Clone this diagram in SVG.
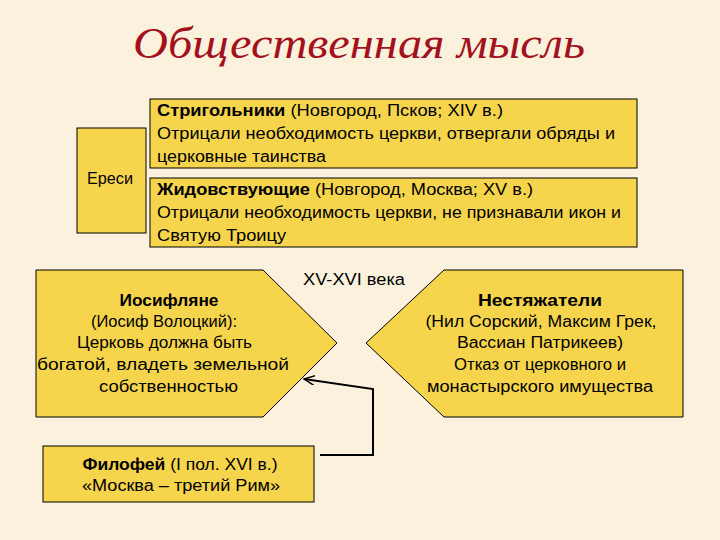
<svg xmlns="http://www.w3.org/2000/svg" width="720" height="540" viewBox="0 0 720 540">
<style>
.box{fill:#f6d54c;stroke:#000;stroke-width:1}
.t{font-family:"Liberation Sans",Arial,sans-serif;font-size:16px;fill:#000}
.c{text-anchor:middle}
.b{font-weight:bold}
.conn{fill:none;stroke:#000;stroke-width:2}
</style>
<defs>
<marker id="arr" viewBox="0 0 12 10" refX="11" refY="5" markerWidth="12" markerHeight="10" markerUnits="userSpaceOnUse" orient="auto">
<path d="M0,0 L11,5 L0,10" fill="none" stroke="#000" stroke-width="1.5"/>
</marker>
</defs>
<rect width="720" height="540" fill="#fbf1dc"/>
<text x="359" y="58" text-anchor="middle" font-family="'Liberation Serif','Times New Roman',serif" font-style="italic" font-size="45" fill="#a3121c" textLength="452" lengthAdjust="spacingAndGlyphs">Общественная мысль</text>

<g id="heresy">
<rect class="box" x="77" y="128" width="69" height="105"/>
<text class="t c" x="110" y="184" textLength="46" lengthAdjust="spacingAndGlyphs">Ереси</text>
</g>
<g id="strigolniki">
<rect class="box" x="150" y="99" width="487" height="69"/>
<text class="t" x="157" y="116" textLength="346" lengthAdjust="spacingAndGlyphs"><tspan class="b">Стригольники</tspan> (Новгород, Псков; XIV в.)</text>
<text class="t" x="157" y="139" textLength="458" lengthAdjust="spacingAndGlyphs">Отрицали необходимость церкви, отвергали обряды и</text>
<text class="t" x="157" y="162" textLength="169" lengthAdjust="spacingAndGlyphs">церковные таинства</text>
</g>
<g id="zhidovstvuyushchie">
<rect class="box" x="150" y="178" width="487" height="69"/>
<text class="t" x="157" y="195" textLength="376" lengthAdjust="spacingAndGlyphs"><tspan class="b">Жидовствующие</tspan> (Новгород, Москва; XV в.)</text>
<text class="t" x="157" y="218" textLength="464" lengthAdjust="spacingAndGlyphs">Отрицали необходимость церкви, не признавали икон и</text>
<text class="t" x="157" y="241" textLength="129" lengthAdjust="spacingAndGlyphs">Святую Троицу</text>
</g>
<g id="period">
<text class="t" x="303" y="285" textLength="102" lengthAdjust="spacingAndGlyphs">XV-XVI века</text>
</g>
<g id="iosiflyane">
<polygon class="box" points="36,270 263,270 337,343 263,417 36,417"/>
<text class="t c b" x="169" y="306" textLength="99" lengthAdjust="spacingAndGlyphs">Иосифляне</text>
<text class="t c" x="164" y="327" textLength="146" lengthAdjust="spacingAndGlyphs">(Иосиф Волоцкий):</text>
<text class="t c" x="164.5" y="348" textLength="175" lengthAdjust="spacingAndGlyphs">Церковь должна быть</text>
<text class="t c" x="163" y="370" textLength="252" lengthAdjust="spacingAndGlyphs">богатой, владеть земельной</text>
<text class="t c" x="168.5" y="392" textLength="139" lengthAdjust="spacingAndGlyphs">собственностью</text>
</g>
<g id="nestyazhateli">
<polygon class="box" points="683,270 444,270 366,343 444,417 683,417"/>
<text class="t c b" x="540" y="306" textLength="124" lengthAdjust="spacingAndGlyphs">Нестяжатели</text>
<text class="t c" x="541" y="327" textLength="231" lengthAdjust="spacingAndGlyphs">(Нил Сорский, Максим Грек,</text>
<text class="t c" x="540" y="348" textLength="166" lengthAdjust="spacingAndGlyphs">Вассиан Патрикеев)</text>
<text class="t c" x="540" y="370" textLength="172" lengthAdjust="spacingAndGlyphs">Отказ от церковного и</text>
<text class="t c" x="540" y="392" textLength="226" lengthAdjust="spacingAndGlyphs">монастырского имущества</text>
</g>
<g id="filofey">
<rect class="box" x="43" y="446" width="271" height="56"/>
<text class="t c" x="180" y="470" textLength="195" lengthAdjust="spacingAndGlyphs"><tspan class="b">Филофей</tspan> (I пол. XVI в.)</text>
<text class="t c" x="181" y="491" textLength="198" lengthAdjust="spacingAndGlyphs">«Москва – третий Рим»</text>
</g>
<g id="connectors">
<path class="conn" d="M320,455 L373,455 L373,389 L304,379" marker-end="url(#arr)"/>
</g>
</svg>
